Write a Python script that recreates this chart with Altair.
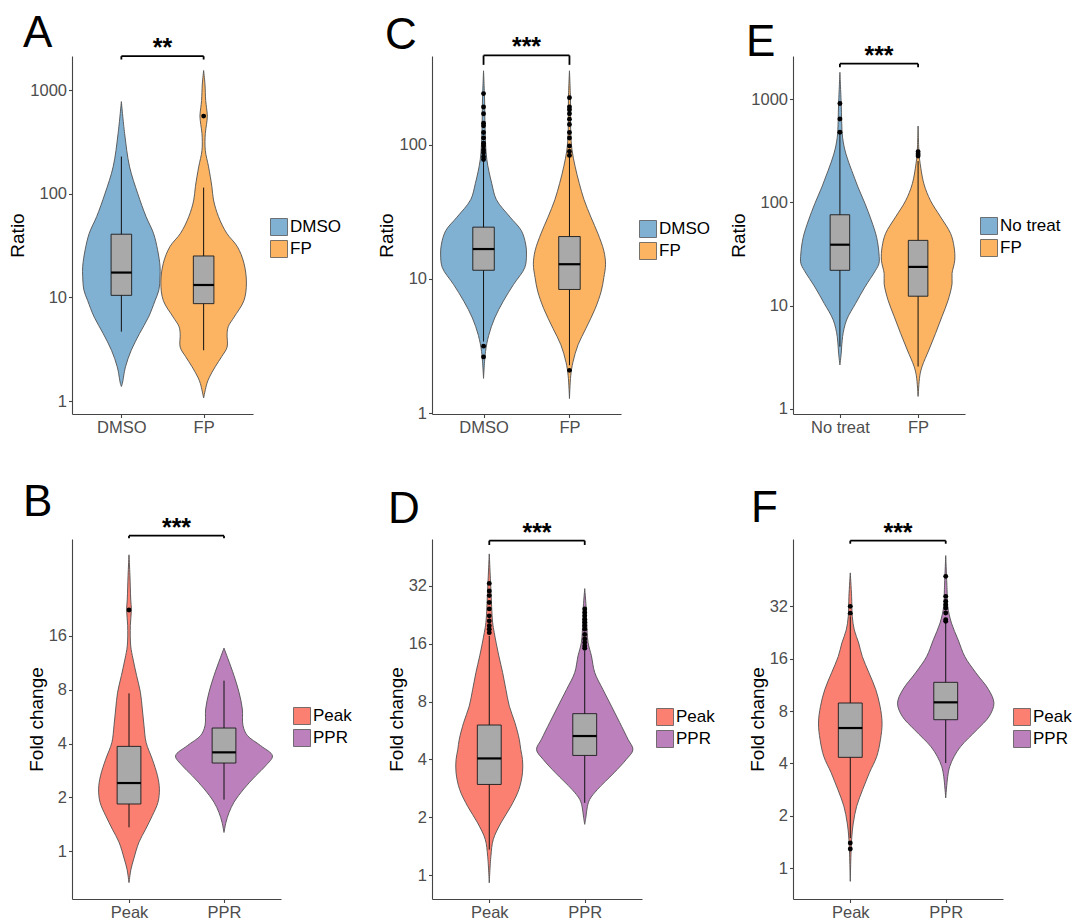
import altair as alt
import pandas as pd

FONT = "Liberation Sans"

# ---------------- Panel A (log10 ratio) ----------------
A_groups = ["DMSO", "FP"]
A_colors = ["#80B1D3", "#FDB462"]
A_dmso_y = [0.14, 0.17, 0.33, 0.49, 0.65, 0.81, 0.97, 1.07, 1.20, 1.30, 1.46, 1.62, 1.78, 2.00, 2.26, 2.58, 2.89]
A_dmso_w = [0.0, 0.012, 0.05, 0.12, 0.22, 0.33, 0.41, 0.455, 0.47, 0.47, 0.44, 0.39, 0.30, 0.20, 0.10, 0.04, 0.0]
A_fp_y = [0.03, 0.17, 0.23, 0.33, 0.43, 0.52, 0.65, 0.72, 0.81, 0.97, 1.14, 1.33, 1.49, 1.62, 1.78, 1.94, 2.07, 2.26, 2.42, 2.58, 2.67, 2.75, 2.83, 2.90, 3.06, 3.19]
A_fp_w = [0.0, 0.04, 0.07, 0.14, 0.22, 0.285, 0.285, 0.30, 0.37, 0.49, 0.52, 0.49, 0.41, 0.28, 0.18, 0.12, 0.10, 0.06, 0.02, 0.02, 0.035, 0.045, 0.035, 0.025, 0.016, 0.0]
A_q1 = [1.02, 0.94]
A_med = [1.24, 1.12]
A_q3 = [1.61, 1.40]
A_lo = [0.67, 0.49]
A_hi = [2.36, 2.06]
A_out_grp = ["FP"]
A_out_y = [2.75]
A_domain = [-0.125, 3.33]
A_ticks = [0, 1, 2, 3]
A_sig = [3.328, 3.296]

# ---------------- Panel C (log10 ratio) ----------------
C_groups = ["DMSO", "FP"]
C_colors = ["#80B1D3", "#FDB462"]
C_dmso_y = [0.26, 0.46, 0.58, 0.71, 0.835, 0.96, 1.085, 1.185, 1.26, 1.36, 1.46, 1.59, 1.71, 1.89, 2.09, 2.34, 2.55]
C_dmso_w = [0.0, 0.023, 0.06, 0.13, 0.23, 0.35, 0.48, 0.50, 0.49, 0.44, 0.31, 0.15, 0.096, 0.038, 0.019, 0.012, 0.0]
C_fp_y = [0.11, 0.28, 0.38, 0.51, 0.63, 0.78, 0.91, 1.01, 1.11, 1.21, 1.34, 1.46, 1.59, 1.71, 1.84, 1.96, 2.09, 2.34, 2.55]
C_fp_w = [0.0, 0.015, 0.04, 0.10, 0.19, 0.30, 0.37, 0.40, 0.42, 0.40, 0.33, 0.25, 0.17, 0.115, 0.065, 0.03, 0.015, 0.012, 0.0]
C_q1 = [1.065, 0.922]
C_med = [1.223, 1.110]
C_q3 = [1.386, 1.316]
C_lo = [0.534, 0.358]
C_hi = [1.875, 1.912]
C_out_grp = ["DMSO"] * 15 + ["FP"] * 12
C_out_y = [2.38, 2.28, 2.23, 2.16, 2.14, 2.09, 2.05, 2.01, 1.99, 1.96, 1.94, 1.91, 1.89, 0.50, 0.42,
           2.35, 2.28, 2.26, 2.23, 2.19, 2.15, 2.09, 2.05, 1.99, 1.95, 1.92, 0.32]
C_domain = [-0.005, 2.66]
C_ticks = [0, 1, 2]
C_sig = [2.664, 2.594]

# ---------------- Panel E (log10 ratio) ----------------
E_groups = ["No treat", "FP"]
E_colors = ["#80B1D3", "#FDB462"]
E_nt_y = [0.425, 0.54, 0.70, 0.86, 1.02, 1.18, 1.34, 1.41, 1.50, 1.66, 1.83, 1.99, 2.15, 2.31, 2.47, 2.63, 2.95, 3.26]
E_nt_w = [0.0, 0.017, 0.034, 0.085, 0.20, 0.32, 0.455, 0.50, 0.50, 0.47, 0.40, 0.32, 0.23, 0.15, 0.077, 0.034, 0.017, 0.0]
E_fp_y = [0.12, 0.32, 0.41, 0.57, 0.73, 0.895, 1.05, 1.21, 1.31, 1.44, 1.57, 1.70, 1.86, 2.015, 2.18, 2.40, 2.47, 2.74]
E_fp_w = [0.0, 0.022, 0.051, 0.138, 0.223, 0.306, 0.383, 0.434, 0.434, 0.469, 0.46, 0.415, 0.287, 0.16, 0.074, 0.022, 0.012, 0.0]
E_q1 = [1.342, 1.091]
E_med = [1.590, 1.375]
E_q3 = [1.880, 1.632]
E_lo = [0.602, 0.41]
E_hi = [2.678, 2.40]
E_out_grp = ["No treat"] * 3 + ["FP"] * 3
E_out_y = [2.958, 2.807, 2.68, 2.469, 2.45, 2.49]
E_domain = [-0.05, 3.418]
E_ticks = [0, 1, 2, 3]
E_sig = [3.344, 3.31]

# ---------------- Panel B (log2 fold change) ----------------
B_groups = ["Peak", "PPR"]
B_colors = ["#FB8072", "#BC80BD"]
B_peak_y = [-0.58, -0.33, -0.14, 0.17, 0.41, 0.66, 0.91, 1.16, 1.40, 1.71, 2.02, 2.33, 2.64, 2.95, 3.26, 3.57, 3.81, 4.19, 4.48, 4.68, 5.11, 5.50]
B_peak_w = [0.0, 0.021, 0.05, 0.105, 0.175, 0.245, 0.305, 0.32, 0.30, 0.245, 0.18, 0.158, 0.14, 0.12, 0.08, 0.042, 0.018, 0.014, 0.025, 0.018, 0.01, 0.0]
B_ppr_y = [0.35, 0.54, 0.72, 0.91, 1.16, 1.40, 1.59, 1.77, 1.96, 2.15, 2.33, 2.64, 2.95, 3.26, 3.57, 3.77]
B_ppr_w = [0.0, 0.021, 0.053, 0.105, 0.21, 0.333, 0.44, 0.51, 0.386, 0.245, 0.20, 0.193, 0.158, 0.105, 0.042, 0.0]
B_q1 = [0.878, 1.638]
B_med = [1.267, 1.836]
B_q3 = [1.947, 2.287]
B_lo = [0.445, 0.958]
B_hi = [2.930, 3.165]
B_out_grp = ["Peak"]
B_out_y = [4.476]
B_domain = [-0.884, 5.793]
B_ticks = [0, 1, 2, 3, 4]
B_sig = [5.855, 5.805]

# ---------------- Panel D (log2 fold change) ----------------
D_groups = ["Peak", "PPR"]
D_colors = ["#FB8072", "#BC80BD"]
D_peak_y = [-0.13, 0.33, 0.62, 0.905, 1.19, 1.48, 1.77, 2.00, 2.17, 2.35, 2.64, 2.92, 3.21, 3.50, 3.79, 4.19, 4.37, 4.94, 5.55]
D_peak_w = [0.0, 0.017, 0.042, 0.122, 0.226, 0.31, 0.348, 0.348, 0.33, 0.314, 0.268, 0.21, 0.174, 0.14, 0.10, 0.052, 0.035, 0.017, 0.0]
D_ppr_y = [0.88, 1.00, 1.19, 1.31, 1.48, 1.77, 2.00, 2.17, 2.35, 2.64, 2.92, 3.21, 3.50, 3.79, 4.02, 4.37, 4.65, 4.95]
D_ppr_w = [0.0, 0.012, 0.028, 0.052, 0.132, 0.307, 0.435, 0.505, 0.453, 0.366, 0.28, 0.19, 0.105, 0.07, 0.035, 0.021, 0.014, 0.0]
D_q1 = [1.569, 2.070]
D_med = [2.018, 2.405]
D_q3 = [2.595, 2.791]
D_lo = [0.444, 1.251]
D_hi = [4.135, 3.875]
D_out_grp = ["Peak"] * 10 + ["PPR"] * 12
D_out_y = [5.04, 4.91, 4.83, 4.71, 4.60, 4.48, 4.39, 4.31, 4.25, 4.19,
           4.60, 4.54, 4.48, 4.42, 4.37, 4.31, 4.25, 4.16, 4.08, 4.02, 3.96, 3.92]
D_domain = [-0.409, 5.807]
D_ticks = [0, 1, 2, 3, 4, 5]
D_sig = [5.779, 5.704]

# ---------------- Panel F (log2 fold change) ----------------
F_groups = ["Peak", "PPR"]
F_colors = ["#FB8072", "#BC80BD"]
F_peak_y = [-0.255, 0.54, 0.86, 1.18, 1.50, 1.82, 2.13, 2.45, 2.77, 3.09, 3.41, 3.73, 4.04, 4.30, 4.55, 4.81, 5.19, 5.64]
F_peak_w = [0.0, 0.014, 0.032, 0.067, 0.13, 0.20, 0.277, 0.316, 0.333, 0.312, 0.267, 0.196, 0.126, 0.088, 0.042, 0.021, 0.014, 0.0]
F_ppr_y = [1.34, 1.75, 1.94, 2.13, 2.325, 2.64, 2.90, 3.15, 3.41, 3.73, 4.04, 4.36, 4.68, 5.00, 5.32, 5.97]
F_ppr_w = [0.0, 0.021, 0.042, 0.088, 0.158, 0.326, 0.456, 0.505, 0.449, 0.316, 0.20, 0.13, 0.06, 0.021, 0.014, 0.0]
F_q1 = [2.115, 2.834]
F_med = [2.675, 3.166]
F_q3 = [3.153, 3.548]
F_lo = [0.573, 2.006]
F_hi = [4.809, 4.682]
F_out_grp = ["Peak"] * 4 + ["PPR"] * 8
F_out_y = [5.0, 4.87, 0.478, 0.363, 5.573, 5.191, 5.096, 5.032, 4.968, 4.873, 4.745, 4.713]
F_domain = [-0.592, 6.287]
F_ticks = [0, 1, 2, 3, 4, 5]
F_sig = [6.255, 6.197]


def violin_df(groups, ys_list, ws_list):
    rows = []
    for i, (g, ys, ws) in enumerate(zip(groups, ys_list, ws_list)):
        for y, w in zip(ys, ws):
            rows.append({"grp": g, "pos": i + 1, "y": y, "w": w})
    return pd.DataFrame(rows)


def box_df(groups, q1, med, q3, lo, hi):
    return pd.DataFrame({"grp": groups, "pos": [1, 2], "q1": q1, "med": med,
                         "q3": q3, "lo": lo, "hi": hi})


def out_df(groups, og, oy):
    return pd.DataFrame({"grp": og, "pos": [groups.index(g) + 1 for g in og], "y": oy})


def panel(letter, groups, colors, vdf, bdf, odf, domain, ticks, base, ytitle,
          width, height, sig, stars, legend_xy, title_dx, title_dy):
    xaxis = alt.Axis(values=[1, 2], title=None, grid=False,
                     labelExpr=f"datum.value == 1 ? '{groups[0]}' : '{groups[1]}'")
    yaxis = alt.Axis(values=ticks, title=ytitle, grid=False,
                     labelExpr=f"format(pow({base}, datum.value), 'd')")
    xs = alt.Scale(domain=[0.4, 2.6], nice=False, zero=False)
    ys = alt.Scale(domain=domain, nice=False, zero=False)

    def X(f):
        return alt.X(f, scale=xs, axis=xaxis)

    def Y(f):
        return alt.Y(f, scale=ys, axis=yaxis)

    violin = alt.Chart(vdf).transform_calculate(
        xa="datum.pos - datum.w", xb="datum.pos + datum.w"
    ).mark_area(orient="horizontal", interpolate="catmull-rom", stroke="#505050",
                strokeWidth=0.9, opacity=1).encode(
        y=Y("y:Q"), x=X("xa:Q"), x2="xb:Q",
        fill=alt.Fill("grp:N", scale=alt.Scale(domain=groups, range=colors),
                      legend=alt.Legend(title=None, orient="none",
                                        legendX=legend_xy[0], legendY=legend_xy[1])),
    )
    whisk = alt.Chart(bdf).mark_rule(color="#111111", strokeWidth=1).encode(
        x=X("pos:Q"), y=Y("lo:Q"), y2="hi:Q")
    boxes = alt.Chart(bdf).transform_calculate(
        bl="datum.pos - 0.125", br="datum.pos + 0.125"
    ).mark_rect(fill="#A9A9A9", stroke="#1a1a1a", strokeWidth=0.9).encode(
        x=X("bl:Q"), x2="br:Q", y=Y("q1:Q"), y2="q3:Q")
    meds = alt.Chart(bdf).transform_calculate(
        bl="datum.pos - 0.125", br="datum.pos + 0.125"
    ).mark_rule(color="black", strokeWidth=2.2).encode(
        x=X("bl:Q"), x2="br:Q", y=Y("med:Q"))
    outs = alt.Chart(odf).mark_circle(size=24, color="black", opacity=1).encode(
        x=X("pos:Q"), y=Y("y:Q"))
    sig_h = pd.DataFrame({"a": [1], "b": [2], "y": [sig[0]]})
    sig_v = pd.DataFrame({"a": [1, 2], "y": [sig[0], sig[0]], "t": [sig[1], sig[1]]})
    br_h = alt.Chart(sig_h).mark_rule(color="black", strokeWidth=1.8).encode(
        x=X("a:Q"), x2="b:Q", y=Y("y:Q"))
    br_v = alt.Chart(sig_v).mark_rule(color="black", strokeWidth=1.8).encode(
        x=X("a:Q"), y=Y("y:Q"), y2="t:Q")
    star = alt.Chart(sig_h).mark_text(text=stars, fontSize=25, fontWeight="bold",
                                       baseline="alphabetic", align="center",
                                       color="black", font=FONT).encode(
        x=alt.X("mid:Q", scale=xs, axis=xaxis), y=Y("y:Q")
    ).transform_calculate(mid="(datum.a + datum.b) / 2")

    return alt.layer(violin, whisk, boxes, meds, outs, br_h, br_v, star).properties(
        width=width, height=height,
        title=alt.TitleParams(letter, anchor="start", frame="group", fontSize=44,
                              fontWeight="normal", font=FONT, color="black",
                              dx=title_dx, dy=title_dy, offset=0),
    )


pA = panel("A", A_groups, A_colors,
           violin_df(A_groups, [A_dmso_y, A_fp_y], [A_dmso_w, A_fp_w]),
           box_df(A_groups, A_q1, A_med, A_q3, A_lo, A_hi),
           out_df(A_groups, A_out_grp, A_out_y),
           A_domain, A_ticks, 10, "Ratio", 181, 358, A_sig, "**", (198, 162), -49, 20)
pC = panel("C", C_groups, C_colors,
           violin_df(C_groups, [C_dmso_y, C_fp_y], [C_dmso_w, C_fp_w]),
           box_df(C_groups, C_q1, C_med, C_q3, C_lo, C_hi),
           out_df(C_groups, C_out_grp, C_out_y),
           C_domain, C_ticks, 10, "Ratio", 189, 358, C_sig, "***", (207, 164), -47, 23)
pE = panel("E", E_groups, E_colors,
           violin_df(E_groups, [E_nt_y, E_fp_y], [E_nt_w, E_fp_w]),
           box_df(E_groups, E_q1, E_med, E_q3, E_lo, E_hi),
           out_df(E_groups, E_out_grp, E_out_y),
           E_domain, E_ticks, 10, "Ratio", 172, 358, E_sig, "***", (187, 161), -47, 21)
pB = panel("B", B_groups, B_colors,
           violin_df(B_groups, [B_peak_y, B_ppr_y], [B_peak_w, B_ppr_w]),
           box_df(B_groups, B_q1, B_med, B_q3, B_lo, B_hi),
           out_df(B_groups, B_out_grp, B_out_y),
           B_domain, B_ticks, 2, "Fold change", 209, 360, B_sig, "***", (221, 168), -49, 9)
pD = panel("D", D_groups, D_colors,
           violin_df(D_groups, [D_peak_y, D_ppr_y], [D_peak_w, D_ppr_w]),
           box_df(D_groups, D_q1, D_med, D_q3, D_lo, D_hi),
           out_df(D_groups, D_out_grp, D_out_y),
           D_domain, D_ticks, 2, "Fold change", 210, 360, D_sig, "***", (224, 169), -44, 11)
pF = panel("F", F_groups, F_colors,
           violin_df(F_groups, [F_peak_y, F_ppr_y], [F_peak_w, F_ppr_w]),
           box_df(F_groups, F_q1, F_med, F_q3, F_lo, F_hi),
           out_df(F_groups, F_out_grp, F_out_y),
           F_domain, F_ticks, 2, "Fold change", 210, 360, F_sig, "***", (220, 169), -42, 10)

chart = alt.concat(pA, pC, pE, pB, pD, pF, columns=3,
                   spacing={"row": 125, "column": 151}, bounds="flush").resolve_scale(
    x="independent", y="independent", fill="independent"
).resolve_legend(fill="independent").configure(
    font=FONT, padding={"top": 4, "left": 0, "right": 0, "bottom": 0}, background="white"
).configure_view(stroke=None).configure_axis(
    domainColor="#444444", domainWidth=1.1, tickColor="#444444", tickWidth=1.1, tickSize=3.5,
    labelColor="#4D4D4D", labelFontSize=16.5, labelFont=FONT, labelPadding=2,
    titleColor="black", titleFontSize=19, titleFont=FONT, titleFontWeight="normal",
    titlePadding=2
).configure_legend(
    symbolType="square", symbolSize=289, symbolStrokeColor="#555555", symbolStrokeWidth=0.8,
    symbolOpacity=1, labelFontSize=17, labelFont=FONT, labelColor="black",
    rowPadding=0, padding=0, labelOffset=2
)

chart.save("out.html", embed_options={"renderer": "svg", "actions": False})
